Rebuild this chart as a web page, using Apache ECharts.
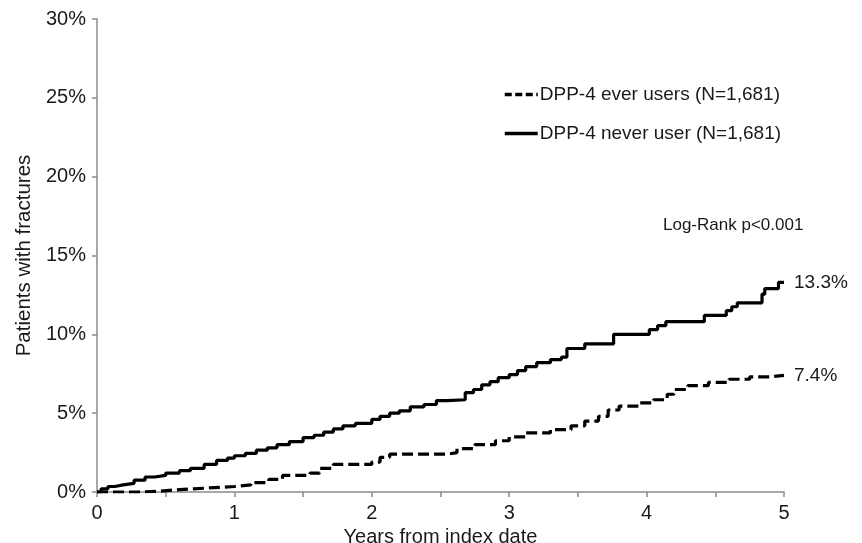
<!DOCTYPE html>
<html>
<head>
<meta charset="utf-8">
<script src="https://cdn.jsdelivr.net/npm/echarts@6/dist/echarts.min.js"></script>
<style>html,body{margin:0;padding:0;background:#fff}#c{width:862px;height:543px}</style>
</head>
<body>
<div id="c"></div>
<script>
// Years from index date / cumulative % (step changes)
const neverTimes = [0,0.03,0.08,0.13,0.19,0.27,0.35,0.42,0.5,0.6,0.68,0.78,0.87,0.95,1.0,1.08,1.16,1.24,1.31,1.4,1.5,1.58,1.65,1.72,1.79,1.88,2.0,2.06,2.13,2.2,2.28,2.38,2.47,2.55,2.68,2.74,2.8,2.86,2.92,3.0,3.06,3.12,3.2,3.3,3.38,3.42,3.55,3.76,4.02,4.08,4.14,4.42,4.58,4.62,4.66,4.84,4.86,4.96,5.0];
const neverVals  = [0,0.2,0.35,0.45,0.55,0.75,0.95,1.05,1.2,1.35,1.5,1.75,2.0,2.15,2.3,2.45,2.65,2.8,3.0,3.2,3.45,3.6,3.8,4.0,4.2,4.35,4.6,4.8,5.0,5.15,5.4,5.55,5.8,5.85,6.3,6.5,6.8,7.0,7.25,7.45,7.7,7.95,8.2,8.4,8.55,9.1,9.4,10.0,10.3,10.55,10.8,11.2,11.5,11.75,12.0,12.55,12.9,13.3,13.3];
const everTimes = [0,0.3,0.45,0.6,0.8,1.0,1.12,1.25,1.35,1.55,1.62,1.72,2.0,2.06,2.13,2.55,2.62,2.75,2.9,3.0,3.12,3.3,3.45,3.55,3.65,3.72,3.8,3.95,4.05,4.15,4.2,4.3,4.45,4.6,4.75,4.9,5.0];
const everVals  = [0,0.05,0.15,0.25,0.35,0.45,0.6,0.8,1.05,1.2,1.5,1.75,1.9,2.2,2.4,2.5,2.75,3.0,3.25,3.5,3.75,3.95,4.2,4.5,4.8,5.2,5.45,5.65,5.85,6.2,6.5,6.75,6.95,7.15,7.3,7.4,7.4];
const seriesNames = ['DPP-4 ever users (N=1,681)', 'DPP-4 never user (N=1,681)'];
const endLabels = ['7.4%', '13.3%'];
const yTicks = [0,5,10,15,20,25,30];
const xTicks = [0,1,2,3,4,5];

const zip = (a, b) => a.map((t, i) => [t, b[i]]);
const font = 'Liberation Sans, Arial, sans-serif';
const txt = '#1a1a1a';
const axisCol = '#8c8c8c';

const chart = echarts.init(document.getElementById('c'));
chart.setOption({
  animation: false,
  backgroundColor: '#fff',
  textStyle: { fontFamily: font, color: txt },
  grid: { left: 97, right: 78, top: 19, bottom: 51, outerBoundsMode: 'none', containLabel: false },
  legend: {
    orient: 'vertical', left: 498, top: 80, itemGap: 20,
    itemWidth: 33, itemHeight: 14,
    itemStyle: { opacity: 0 },
    textStyle: { fontFamily: font, fontSize: 19, color: txt, padding: [0,0,0,-3] },
    data: [
      { name: seriesNames[0], lineStyle: { type: [7, 3.5], width: 3.5 } },
      { name: seriesNames[1], lineStyle: { width: 3.5 } }
    ]
  },
  graphic: [{
    type: 'text', left: 663, top: 217,
    style: { text: 'Log-Rank p<0.001', font: '17px ' + font, fill: txt }
  }],
  xAxis: {
    type: 'value', min: 0, max: 5, interval: 0.5,
    name: 'Years from index date', nameLocation: 'middle', nameGap: 31,
    nameTextStyle: { fontSize: 20, color: txt, fontFamily: font },
    axisLine: { show: true, lineStyle: { color: axisCol, width: 1.5 } },
    axisTick: { show: true, length: 5, lineStyle: { color: axisCol, width: 1.5 } },
    axisLabel: { fontSize: 20, color: txt, margin: 11,
      formatter: v => xTicks.includes(v) ? String(v) : '' },
    splitLine: { show: false }
  },
  yAxis: {
    type: 'value', min: 0, max: 30, interval: 5,
    name: 'Patients with fractures', nameLocation: 'middle', nameGap: 62, nameRotate: 90,
    nameTextStyle: { fontSize: 20.5, color: txt, fontFamily: font },
    axisLine: { show: true, lineStyle: { color: axisCol, width: 1.5 } },
    axisTick: { show: true, length: 5, lineStyle: { color: axisCol, width: 1.5 } },
    axisLabel: { fontSize: 20, color: txt, margin: 11,
      formatter: v => yTicks.includes(v) ? v + '%' : '' },
    splitLine: { show: false }
  },
  series: [
    {
      name: seriesNames[0], type: 'line', step: 'end', symbol: 'none',
      data: zip(everTimes, everVals),
      lineStyle: { color: '#000', width: 3.2, type: [11, 5] },
      itemStyle: { color: '#000' },
      endLabel: { show: true, formatter: endLabels[0], fontSize: 19, color: txt, fontFamily: font, distance: 10 }
    },
    {
      name: seriesNames[1], type: 'line', step: 'end', symbol: 'none',
      data: zip(neverTimes, neverVals),
      lineStyle: { color: '#000', width: 3.2 },
      itemStyle: { color: '#000' },
      endLabel: { show: true, formatter: endLabels[1], fontSize: 19, color: txt, fontFamily: font, distance: 10 }
    }
  ]
});
</script>
</body>
</html>
